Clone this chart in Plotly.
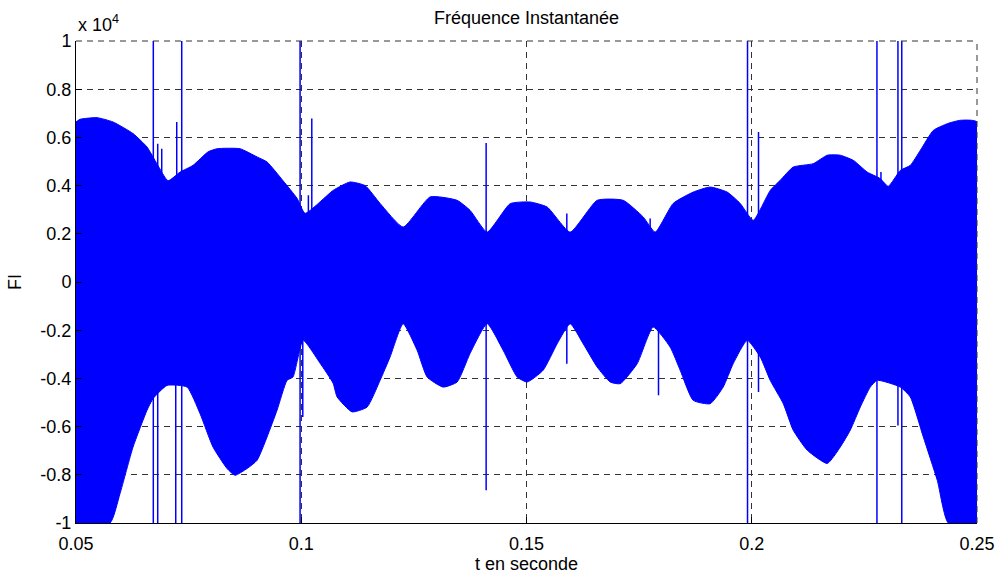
import plotly.graph_objects as go

# Envelope of the instantaneous frequency (Hz)
t_upper = [0.05, 0.0509, 0.05466, 0.05822, 0.06266, 0.06577, 0.06799, 0.07043, 0.07309, 0.07598,
           0.07931, 0.08131, 0.08642, 0.09019, 0.09241, 0.09597, 0.09907, 0.10085, 0.10707, 0.11084,
           0.11417, 0.1175, 0.12261, 0.12861, 0.1346, 0.13749, 0.14126, 0.14637, 0.15081, 0.15459,
           0.15969, 0.16569, 0.17146, 0.1759, 0.17857, 0.18256, 0.187, 0.19078, 0.19455, 0.19744,
           0.20033, 0.2041, 0.20632, 0.20921, 0.21365, 0.21676, 0.21965, 0.22253, 0.22564, 0.22853,
           0.2303, 0.23297, 0.23519, 0.23741, 0.2403, 0.24341, 0.24629, 0.25]
f_upper = [6640, 6750, 6820, 6640, 6160, 5600, 4900, 4200, 4560, 4840,
           5400, 5530, 5530, 5190, 4980, 4200, 3470, 2850, 3800, 4150,
           4000, 3260, 2280, 3530, 3390, 2970, 2070, 3250, 3320, 3110,
           2070, 3390, 3390, 2700, 2070, 3260, 3730, 3940, 3730, 3260,
           2560, 3800, 4220, 4770, 4910, 5260, 5260, 5050, 4560, 4290,
           3970, 4630, 4840, 5460, 6290, 6570, 6710, 6640]

t_lower = [0.05, 0.05755, 0.05977, 0.06266, 0.06577, 0.0671, 0.07021, 0.07465, 0.07753, 0.08042,
           0.08353, 0.0853, 0.08797, 0.09019, 0.09241, 0.09463, 0.09685, 0.09818, 0.10041, 0.10418,
           0.10707, 0.10796, 0.11129, 0.11462, 0.1175, 0.11972, 0.12261, 0.12572, 0.12794, 0.13149,
           0.1346, 0.13749, 0.14126, 0.14481, 0.14792, 0.15014, 0.1537, 0.15681, 0.15969, 0.16258,
           0.16569, 0.16858, 0.1708, 0.17457, 0.17812, 0.18189, 0.18411, 0.187, 0.19078, 0.19366,
           0.19588, 0.19899, 0.20188, 0.2041, 0.207, 0.20921, 0.21232, 0.21676, 0.21965, 0.22187,
           0.22409, 0.22631, 0.22786, 0.23297, 0.23519, 0.23808, 0.24119, 0.24363, 0.25]
f_lower = [-10000, -10000, -8780, -6850, -5320, -4840, -4290, -4360, -5460, -6850,
           -7740, -8020, -7740, -7400, -6430, -5320, -4080, -3940, -2420, -3370,
           -4200, -4770, -5390, -5190, -4080, -3110, -1730, -2830, -3940, -4360,
           -4150, -2960, -1730, -2830, -3940, -4150, -3660, -2560, -1730, -2560,
           -3530, -4150, -4220, -3390, -1870, -2700, -3660, -4910, -5050, -4360,
           -3390, -2420, -3110, -4080, -5050, -6150, -6980, -7530, -6850, -6150,
           -5190, -4360, -4080, -4360, -4770, -6430, -8230, -10000, -10000]

# Isolated spikes: time, top and bottom value (Hz)
spike_t = [0.06716, 0.06814, 0.06903, 0.07214, 0.07236, 0.07347, 0.09974, 0.10034, 0.10158, 0.10234,
           0.14104, 0.15895, 0.17745, 0.1793, 0.19906, 0.2015, 0.22779, 0.22868, 0.23245, 0.2333, 0.24963]
spike_top = [10000, 5740, 5530, 0, 6640, 10000, 10000, 0, 3600, 6780,
             5770, 2840, 2640, 0, 10000, 6220, 10000, 4560, 10000, 10000, 6640]
spike_bottom = [-10000, -10000, 0, -10000, 0, -10000, -10000, -5600, 0, 0,
                -8640, -3390, 0, -4700, -10000, -4560, -10000, 0, -5950, -10000, 0]

y_ticks = [-10000, -8000, -6000, -4000, -2000, 0, 2000, 4000, 6000, 8000, 10000]
y_ticktext = ["-1", "-0.8", "-0.6", "-0.4", "-0.2", "0", "0.2", "0.4", "0.6", "0.8", "1"]
x_ticks = [0.05, 0.1, 0.15, 0.2, 0.25]
x_ticktext = ["0.05", "0.1", "0.15", "0.2", "0.25"]

BLUE = "#0000FF"
FONT = "Liberation Sans, Arial, sans-serif"
FS = 18

fig = go.Figure()
fig.add_trace(go.Scatter(
    x=t_upper + t_lower[::-1], y=f_upper + f_lower[::-1],
    mode="lines", fill="toself", fillcolor=BLUE,
    line=dict(color=BLUE, width=1, shape="spline", smoothing=0.5),
    hoverinfo="skip", showlegend=False))

sx, sy = [], []
for t, top, bot in zip(spike_t, spike_top, spike_bottom):
    sx += [t, t, None]
    sy += [top, bot, None]
fig.add_trace(go.Scatter(x=sx, y=sy, mode="lines",
                         line=dict(color=BLUE, width=1.5), showlegend=False))

grid_style = dict(color="#333333", width=1, dash="6px,5px")
fig.add_shape(type="line", xref="paper", yref="paper", x0=0, x1=1, y0=1, y1=1,
              line=grid_style, layer="above")
fig.add_shape(type="line", xref="paper", yref="paper", x0=1, x1=1, y0=0, y1=1,
              line=grid_style, layer="above")

fig.update_layout(
    width=1001, height=574,
    margin=dict(l=76, r=24, t=41, b=51, autoexpand=False),
    paper_bgcolor="white", plot_bgcolor="white",
    font=dict(family=FONT, size=FS, color="black"),
    title=dict(text="Fréquence Instantanée", x=0.5, xref="paper", xanchor="center",
               y=1, yref="container", yanchor="top", pad=dict(t=11), automargin=False,
               font=dict(family=FONT, size=FS, color="black")),
    showlegend=False,
)
fig.update_xaxes(
    range=[0.05, 0.25], tickvals=x_ticks, ticktext=x_ticktext, automargin=False,
    showline=True, linecolor="black", linewidth=1, mirror=False,
    ticks="inside", ticklen=6, tickcolor="black", ticklabelstandoff=4,
    showgrid=True, gridcolor="#333333", griddash="6px,5px", gridwidth=1,
    zeroline=False,
    title=dict(text="t en seconde", standoff=3, font=dict(family=FONT, size=FS)),
)
fig.update_yaxes(
    range=[-10000, 10000], tickvals=y_ticks, ticktext=y_ticktext, automargin=False,
    showline=True, linecolor="black", linewidth=1, mirror=False,
    ticks="inside", ticklen=6, tickcolor="black",
    showgrid=True, gridcolor="#333333", griddash="6px,5px", gridwidth=1,
    zeroline=False,
    title=dict(text="FI", standoff=14, font=dict(family=FONT, size=FS)),
)
fig.add_annotation(text="x 10<sup>4</sup>", xref="paper", yref="paper",
                   x=0, y=1, xanchor="left", yanchor="bottom", yshift=4,
                   showarrow=False, font=dict(family=FONT, size=FS, color="black"))

fig.write_html("out.html", config={"displayModeBar": False},
               post_script="document.body.style.margin='0';document.body.style.overflow='hidden';")
